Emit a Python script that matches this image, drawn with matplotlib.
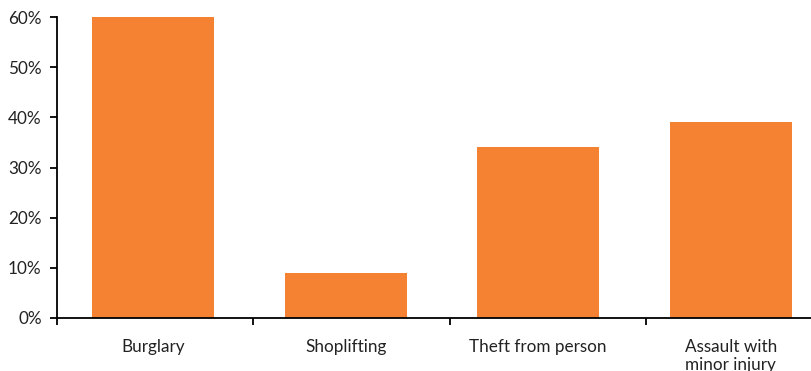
import matplotlib
matplotlib.use("Agg")
import matplotlib.pyplot as plt
from matplotlib.ticker import FuncFormatter, FixedLocator

categories = ["Burglary", "Shoplifting", "Theft from person", "Assault with\nminor injury"]
values = [60, 9, 34, 39]
yticks = [0, 10, 20, 30, 40, 50, 60]

plt.rcParams['font.family'] = ['Lato', 'DejaVu Sans']

fig = plt.figure(figsize=(8.12, 3.71), dpi=100)
ax = fig.add_axes([57/812, 53/371, 755/812, 301/371])

x = list(range(len(categories)))
ax.bar(x, values, width=0.634, color="#F58233", zorder=2)

ax.set_xlim(-0.5, -0.5 + 755/192.5)
ax.set_ylim(0, 60)
ax.set_yticks(yticks)
ax.yaxis.set_major_formatter(FuncFormatter(lambda v, p: f"{v:.0f}%"))
ax.set_xticks(x)
ax.set_xticklabels(categories, fontsize=12.3, color="#222222", linespacing=1.2)
ax.xaxis.set_minor_locator(FixedLocator([i - 0.5 + 0.02 * i for i in range(len(categories))]))
ax.tick_params(axis='x', which='major', length=0, pad=15)
ax.tick_params(axis='x', which='minor', length=5, width=1.3, direction='out', color='black')
ax.tick_params(axis='y', length=5, width=1.3, direction='out', pad=6, labelsize=12.3, labelcolor="#222222")

for s in ['top', 'right']:
    ax.spines[s].set_visible(False)
for s in ['left', 'bottom']:
    ax.spines[s].set_linewidth(1.3)
    ax.spines[s].set_color('black')
ax.spines['bottom'].set_zorder(3)

fig.savefig("out.png", dpi=100)
